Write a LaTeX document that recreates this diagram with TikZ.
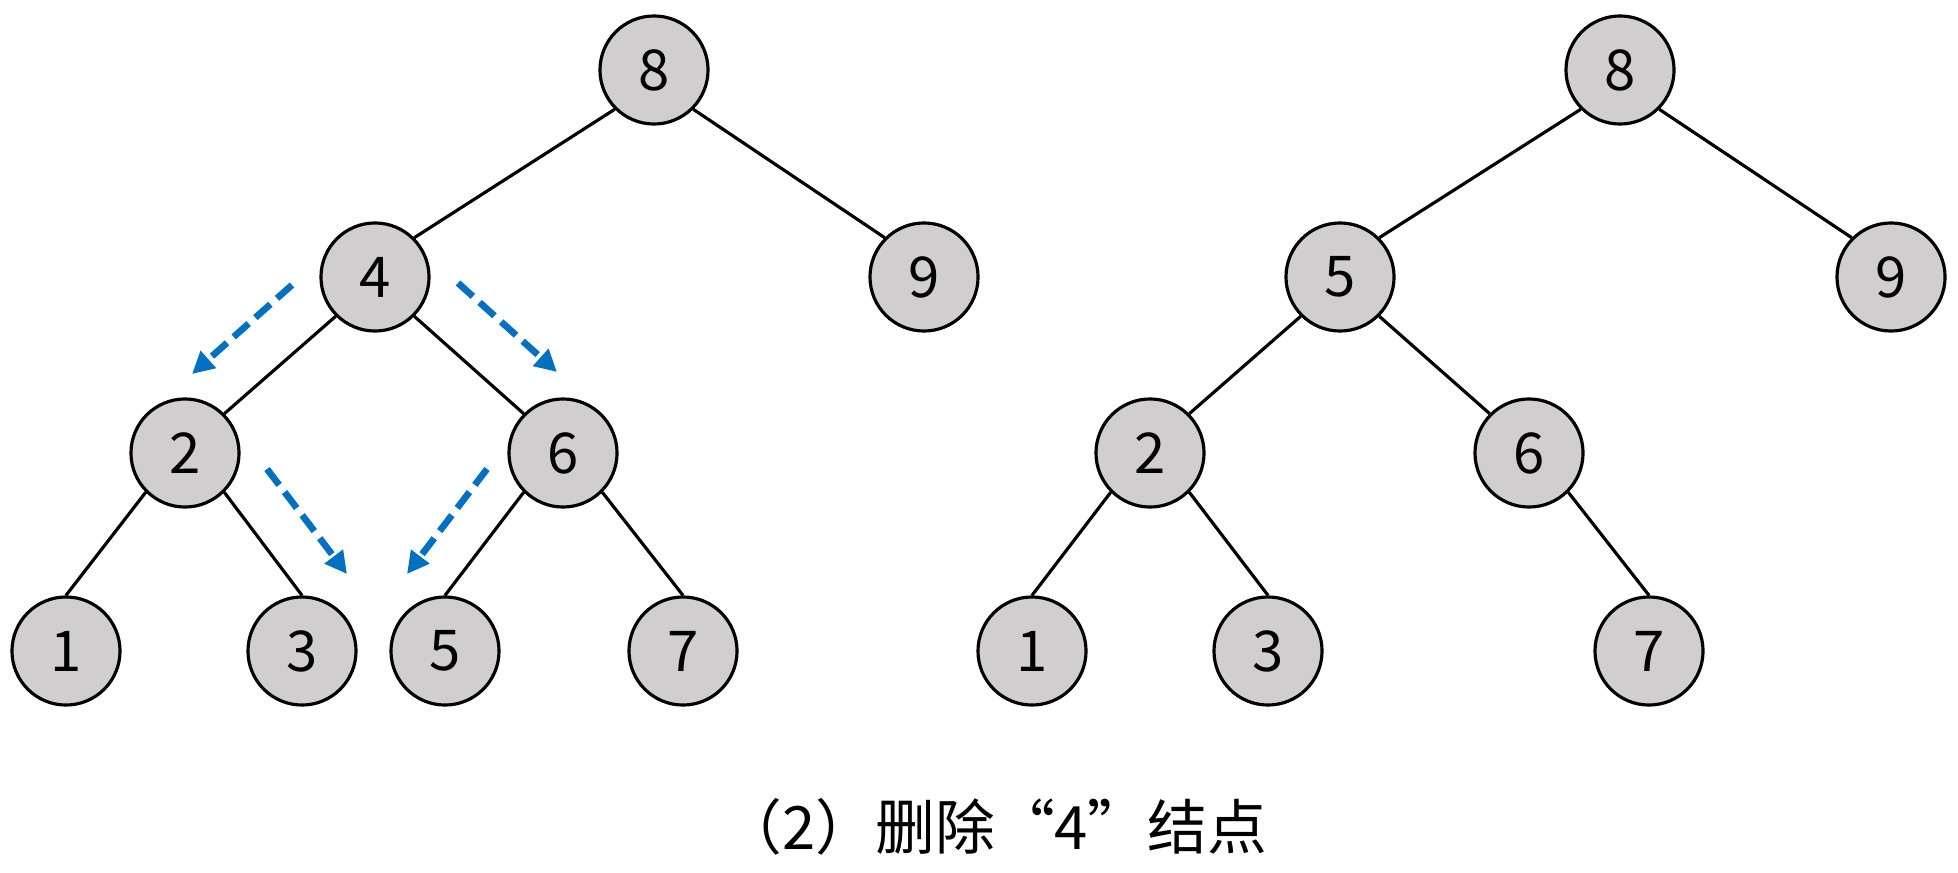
\documentclass[tikz,border=0pt]{standalone}
\usepackage{fontspec}
\setmainfont{Noto Sans CJK SC}
\usepackage{xcolor}
\usetikzlibrary{arrows.meta}
\definecolor{ndgray}{RGB}{208,206,206}
\definecolor{arblue}{RGB}{0,112,192}
\tikzset{
  nd/.style={circle, draw, line width=0.9pt, fill=ndgray, inner sep=0pt, minimum size=1.08cm, font=\fontsize{16}{16}\selectfont},
  edge/.style={line width=0.9pt},
  arrow/.style={-{Triangle[length=0.22cm, width=0.22cm]}, line width=1.9pt, arblue, dash pattern=on 0.2cm off 0.09cm}
}

\begin{document}
\begin{tikzpicture}[x=0.01cm, y=-0.01cm]
  \useasboundingbox (0,0) rectangle (1958,873);
  % before deleting
  \node[nd] (a8) at (654,70) {8};
  \node[nd] (a4) at (375,277) {4};
  \node[nd] (a9) at (924,277) {9};
  \node[nd] (a2) at (185,453) {2};
  \node[nd] (a6) at (563,453) {6};
  \node[nd] (a1) at (66,651) {1};
  \node[nd] (a3) at (302,651) {3};
  \node[nd] (a5) at (445,651) {5};
  \node[nd] (a7) at (683,651) {7};
  \draw[edge] (a8.south west) -- (a4.north east);
  \draw[edge] (a8.south east) -- (a9.north west);
  \draw[edge] (a4.south west) -- (a2.north east);
  \draw[edge] (a4.south east) -- (a6.north west);
  \draw[edge] (a2.south west) -- (a1.north);
  \draw[edge] (a2.south east) -- (a3.north);
  \draw[edge] (a6.south west) -- (a5.north);
  \draw[edge] (a6.south east) -- (a7.north);
  % search path
  \coordinate (p1s) at (292,285);
  \coordinate (p1e) at (192,374);
  \coordinate (p2s) at (458,283);
  \coordinate (p2e) at (557,372);
  \coordinate (p3s) at (267,469);
  \coordinate (p3e) at (347,574);
  \coordinate (p4s) at (487,469);
  \coordinate (p4e) at (407,574);
  \draw[arrow] (p1s) -- (p1e);
  \draw[arrow] (p2s) -- (p2e);
  \draw[arrow] (p3s) -- (p3e);
  \draw[arrow] (p4s) -- (p4e);
  % after deleting
  \node[nd] (b8) at (1620,70) {8};
  \node[nd] (b5) at (1340,277) {5};
  \node[nd] (b9) at (1891,277) {9};
  \node[nd] (b2) at (1150,453) {2};
  \node[nd] (b6) at (1529,453) {6};
  \node[nd] (b1) at (1032,651) {1};
  \node[nd] (b3) at (1268,651) {3};
  \node[nd] (b7) at (1649,651) {7};
  \draw[edge] (b8.south west) -- (b5.north east);
  \draw[edge] (b8.south east) -- (b9.north west);
  \draw[edge] (b5.south west) -- (b2.north east);
  \draw[edge] (b5.south east) -- (b6.north west);
  \draw[edge] (b2.south west) -- (b1.north);
  \draw[edge] (b2.south east) -- (b3.north);
  \draw[edge] (b6.south east) -- (b7.north);
  \node[font=\fontsize{17}{17}\selectfont] (cap) at (995,827) {（2）删除“4”结点};
\end{tikzpicture}
\end{document}
